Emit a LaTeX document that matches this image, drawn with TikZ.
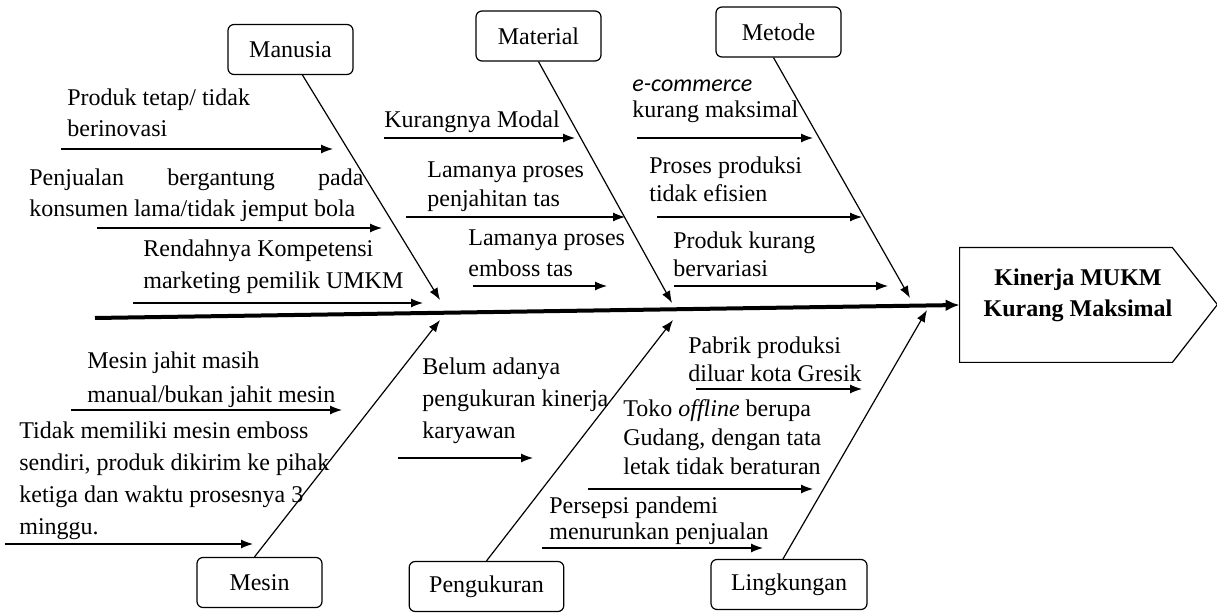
\documentclass[tikz,border=0pt]{standalone}
\usepackage{fontspec}
\setmainfont{Liberation Serif}
\newfontfamily\ecfont{Carlito}
\usetikzlibrary{arrows.meta}

\begin{document}
\begin{tikzpicture}[x=0.5pt,y=-0.5pt,>={Latex[length=6pt,width=4.5pt]},
	every node/.style={font=\fontsize{12}{15.5}\selectfont},
	category/.style={draw,line width=0.6pt,rounded corners=3pt,minimum width=62.5pt,minimum height=25pt,inner xsep=10pt},
	cause/.style={anchor=north west,inner sep=0pt,align=left,execute at begin node=\strut},
	lead/.style={font=\fontsize{12}{#1}\selectfont},
	bone/.style={->,line width=0.6pt},
	twig/.style={->,line width=0.6pt}]

\useasboundingbox (0,0) rectangle (1217,614);

\node[minimum width=106pt,minimum height=57pt,inner sep=0pt] (head) at (1066,305) {};
\draw[line width=0.6pt] (head.north west) -- (head.north east) -- ++(45,57)
	-- (head.south east) -- (head.south west) -- cycle;
\node[align=center,font=\fontsize{12}{15.5}\selectfont\bfseries] (effect)
	at ([xshift=6pt,yshift=5pt]head.center) {Kinerja MUKM\\Kurang Maksimal};

\coordinate (spine) at (95,318);
\draw[line width=2pt,-{Latex[length=7pt,width=6pt]}] (spine) -- (head.west);

\node[category] (manusia) at (290.5,49.5) {Manusia};
\node[category] (material) at (538.5,36) {Material};
\node[category] (metode) at (778.5,32) {Metode};
\node[category] (mesin) at (259.5,582.5) {Mesin};
\node[category] (pengukuran) at (486.5,586.5) {Pengukuran};
\node[category] (lingkungan) at (789,584.5) {Lingkungan};

\coordinate (manusia tip) at (440,300);
\coordinate (material tip) at (672,303);
\coordinate (metode tip) at (910,298);
\coordinate (mesin tip) at (440,320);
\coordinate (pengukuran tip) at (673,320);
\coordinate (lingkungan tip) at (927,310);

\draw[bone] ([xshift=6pt]manusia.south) -- (manusia tip);
\draw[bone] (material.south) -- (material tip);
\draw[bone] ([xshift=-2.5pt]metode.south) -- (metode tip);
\draw[bone] ([xshift=-2.5pt]mesin.north) -- (mesin tip);
\draw[bone] (pengukuran.north) -- (pengukuran tip);
\draw[bone] ([xshift=-3pt]lingkungan.north) -- (lingkungan tip);

\node[cause] (manusia1) at (67,88) {Produk tetap/ tidak\\berinovasi};
\node[cause] (manusia2) at (29,168) {\makebox[167pt][s]{Penjualan bergantung pada}\\konsumen lama/tidak jemput bola};
\node[cause,lead=16pt] (manusia3) at (143,239) {Rendahnya Kompetensi\\marketing pemilik UMKM};
\node[cause] (material1) at (384,105) {Kurangnya Modal};
\node[cause,lead=14.5pt] (material2) at (427,161) {Lamanya proses\\penjahitan tas};
\node[cause] (material3) at (468,229) {Lamanya proses\\emboss tas};
\node[cause] (metode1) at (632,79) {{\ecfont\itshape e-commerce}\\[-2.5pt]kurang maksimal};
\node[cause,lead=14pt] (metode2) at (649,156) {Proses produksi\\tidak efisien};
\node[cause,lead=14pt] (metode3) at (673,231) {Produk kurang\\bervariasi};
\node[cause,lead=17pt] (mesin1) at (87,351) {Mesin jahit masih\\manual/bukan jahit mesin};
\node[cause,lead=16pt] (mesin2) at (19,421) {Tidak memiliki mesin emboss\\sendiri, produk dikirim ke pihak\\ketiga dan waktu prosesnya 3\\minggu.};
\node[cause,lead=16pt] (pengukuran1) at (422,357) {Belum adanya\\pengukuran kinerja\\karyawan};
\node[cause,lead=14pt] (lingkungan1) at (688,336) {Pabrik produksi\\diluar kota Gresik};
\node[cause,lead=14.5pt] (lingkungan2) at (623,399) {Toko \textit{offline} berupa\\Gudang, dengan tata\\letak tidak beraturan};
\node[cause,lead=13pt] (lingkungan3) at (549,496) {Persepsi pandemi\\menurunkan penjualan};

\foreach \n/\xa/\xb/\y in {a/61/333/149,b/97/382/228,c/133/423/303,
	d/384/575/138,e/406/625/217,f/473/607/286,
	g/637/813/138,h/657/862/217,i/674/888/286,
	j/71/342/410,k/5/253/544,l/398/533/458,
	m/696/862/389,n/588/813/489,o/542/763/548}{
	\coordinate (t\n s) at (\xa,\y);
	\coordinate (t\n e) at (\xb,\y);
	\draw[twig] (t\n s) -- (t\n e);
}

\end{tikzpicture}
\end{document}
